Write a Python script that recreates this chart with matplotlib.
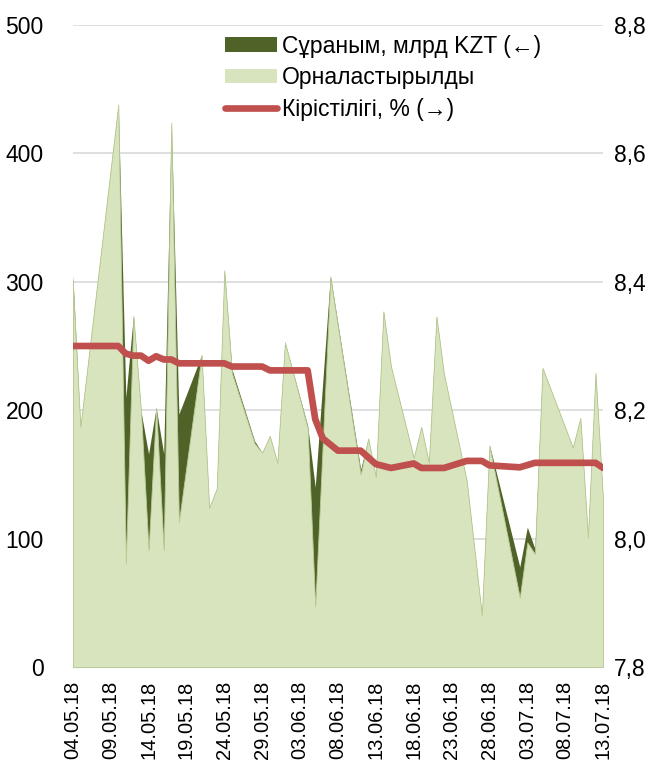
import pandas as pd
import matplotlib
matplotlib.use('Agg')
import matplotlib.pyplot as plt
import matplotlib.dates as mdates
from matplotlib.patches import Patch
from matplotlib.lines import Line2D

plt.rcParams['font.family'] = ['Liberation Sans', 'DejaVu Sans']

# auction dates, demand and placed volume (bn KZT)
area_dates = ['04.05.18', '05.05.18', '10.05.18', '11.05.18', '12.05.18', '13.05.18',
              '14.05.18', '15.05.18', '16.05.18', '17.05.18', '18.05.18', '21.05.18',
              '22.05.18', '23.05.18', '24.05.18', '25.05.18', '28.05.18', '29.05.18',
              '30.05.18', '31.05.18', '01.06.18', '04.06.18', '05.06.18', '07.06.18',
              '11.06.18', '12.06.18', '13.06.18', '14.06.18', '15.06.18', '18.06.18',
              '19.06.18', '20.06.18', '21.06.18', '22.06.18', '25.06.18', '27.06.18',
              '28.06.18', '02.07.18', '03.07.18', '04.07.18', '05.07.18', '09.07.18',
              '10.07.18', '11.07.18', '12.07.18', '13.07.18']
demand = [305, 187, 438, 210, 274, 199, 166, 202, 166, 424, 197, 243,
          124, 139, 309, 232, 176, 167, 180, 159, 253, 188, 140, 305,
          154, 178, 148, 277, 234, 163, 187, 159, 273, 228, 145, 40,
          173, 78, 109, 92, 233, 171, 194, 101, 229, 130]
placed = [298, 187, 438, 81, 273, 199, 91, 202, 91, 424, 113, 243,
          124, 139, 309, 229, 174, 167, 180, 159, 253, 186, 47, 303,
          150, 178, 148, 277, 234, 163, 187, 159, 273, 228, 145, 40,
          172, 54, 97, 88, 233, 171, 194, 101, 229, 130]

# yield, %
yield_dates = ['04.05.18', '10.05.18', '11.05.18', '12.05.18', '13.05.18', '14.05.18',
               '15.05.18', '16.05.18', '17.05.18', '18.05.18', '24.05.18', '25.05.18',
               '29.05.18', '30.05.18', '04.06.18', '05.06.18', '06.06.18', '08.06.18',
               '11.06.18', '13.06.18', '15.06.18', '18.06.18', '19.06.18', '22.06.18',
               '25.06.18', '27.06.18', '28.06.18', '02.07.18', '04.07.18', '12.07.18',
               '13.07.18']
yield_pct = [8.300, 8.300, 8.288, 8.285, 8.285, 8.277, 8.284, 8.279, 8.279, 8.273,
             8.273, 8.268, 8.268, 8.262, 8.262, 8.186, 8.156, 8.137, 8.137, 8.116,
             8.110, 8.117, 8.110, 8.110, 8.121, 8.121, 8.114, 8.111, 8.118, 8.118,
             8.110]

labels = ['Сұраным, млрд KZT (←)', 'Орналастырылды', 'Кірістілігі, % (→)']

x_area = pd.to_datetime(area_dates, format='%d.%m.%y')
x_yield = pd.to_datetime(yield_dates, format='%d.%m.%y')

dark = '#4F6228'
light = '#D7E4BD'
red = '#C0504D'

fig = plt.figure(figsize=(6.62, 7.67), dpi=100)
ax = fig.add_axes([0.110, 0.1304, 0.801, 0.837])

ax.fill_between(x_area, 0, demand, color=dark, lw=0, zorder=2)
ax.fill_between(x_area, 0, placed, facecolor=light, edgecolor='#B9CC94', lw=0.6, zorder=3)

ax.set_ylim(0, 500)
ax.set_yticks(range(0, 501, 100))
ax.set_xlim(pd.Timestamp('2018-05-04'), pd.Timestamp('2018-07-13'))
ax.set_xticks(pd.date_range('2018-05-04', '2018-07-13', freq='5D'))
ax.xaxis.set_major_formatter(mdates.DateFormatter('%d.%m.%y'))
ax.grid(axis='y', color='#D9D9D9', lw=1.2, zorder=0)
ax.set_axisbelow(True)
for s in ['top', 'left', 'right']:
    ax.spines[s].set_visible(False)
ax.spines['bottom'].set_color('#BFBFBF')
ax.tick_params(axis='y', length=0, pad=21, labelsize=16.5)
ax.tick_params(axis='x', length=0, pad=10, labelsize=14.5, labelrotation=90)

ax2 = ax.twinx()
ax2.plot(x_yield, yield_pct, color=red, lw=4.8, solid_joinstyle='round',
         solid_capstyle='round', zorder=5)
ax2.set_ylim(7.8, 8.8)
ax2.set_yticks([7.8, 8.0, 8.2, 8.4, 8.6, 8.8])
ax2.set_yticklabels(['7,8', '8,0', '8,2', '8,4', '8,6', '8,8'])
ax2.tick_params(axis='y', length=0, pad=8, labelsize=16.5)
for s in ['top', 'left', 'right', 'bottom']:
    ax2.spines[s].set_visible(False)

handles = [Patch(facecolor=dark, edgecolor='none'),
           Patch(facecolor=light, edgecolor='none'),
           Line2D([0], [0], color=red, lw=4.8, solid_capstyle='round')]
ax2.legend(handles, labels, loc='upper left', bbox_to_anchor=(0.287, 0.985),
           frameon=False, fontsize=16.5, handlelength=2.27, handleheight=0.6,
           handletextpad=0.2, labelspacing=0.37, borderaxespad=0, borderpad=0)

fig.savefig('out.png', dpi=100)
